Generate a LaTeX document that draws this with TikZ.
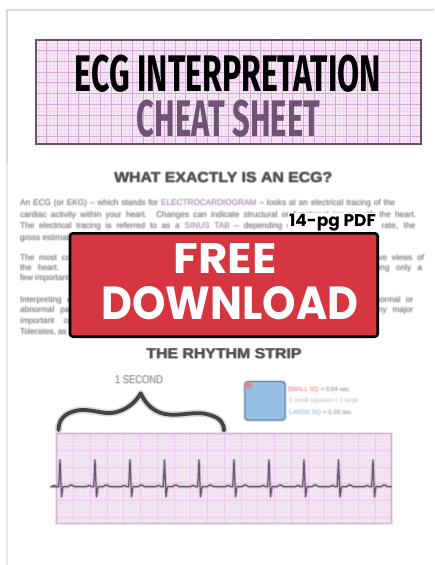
\documentclass[tikz,border=0pt]{standalone}
\usepackage{fontspec}
\usepackage{graphicx}
\setmainfont{Liberation Sans}
\newfontfamily\headfont{Fira Sans}
\newfontfamily\popfont{Poppins}
\usetikzlibrary{calc}

\definecolor{titlepink}{HTML}{F6E8F6}
\definecolor{titlegridmaj}{HTML}{D9A8DB}
\definecolor{titlegridmin}{HTML}{EFD9EF}
\definecolor{titleborder}{HTML}{6E4F70}
\definecolor{cheatpurple}{HTML}{6E5472}
\definecolor{bannerred}{HTML}{D5363F}
\definecolor{bodygray}{HTML}{6E6E6E}
\definecolor{headgray}{HTML}{303030}
\definecolor{hilite}{HTML}{A47CB2}
\definecolor{strippink}{HTML}{F1DEF0}
\definecolor{stripgrid}{HTML}{E9CFE9}
\definecolor{stripedge}{HTML}{D6B4D6}
\definecolor{tracecol}{HTML}{5B4860}
\definecolor{bracecol}{HTML}{444444}
\definecolor{legendblue}{HTML}{98C0E4}
\definecolor{legendedge}{HTML}{6F8DB6}
\definecolor{legendred}{HTML}{EE7C86}
\definecolor{legendtxtblue}{HTML}{86BCEB}
\definecolor{pageedge}{HTML}{DADADA}

\tikzset{
  pagerule/.style={draw=pageedge, line width=1.5pt},
  titlebox/.style={draw=titleborder, line width=1.3pt, fill=titlepink},
  fuzz/.style={inner sep=0pt, opacity=0.28},
  bodyline/.style={fuzz, anchor=west, text=bodygray, font=\fontsize{8.2}{9}\selectfont},
  headline/.style={fuzz, opacity=0.32, text=headgray},
  legendtxt/.style={fuzz, anchor=west, text=gray!85, font=\fontsize{6.2}{7}\selectfont},
  banner/.style={draw=black, line width=2.6pt, fill=bannerred, rounded corners=3pt},
  bannertext/.style={text=white, inner sep=0pt},
  brace/.style={draw=bracecol, line width=3.8pt, line cap=round, line join=round},
  bracehalo/.style={draw=bracecol, line width=7pt, opacity=0.2, line cap=round, line join=round},
  trace/.style={draw=tracecol, line width=1.2pt, opacity=0.85, line join=round},
  tracehalo/.style={draw=tracecol, line width=3.2pt, opacity=0.22, line join=round},
}

% soft print: the same text stamped a few times with tiny offsets
\newcommand\hazytext[3]{%
  \foreach \hx/\hy in {-0.9/0,0.9/0,0/-0.9,0/0.9,0/0}{%
    \node[#2] at ($#1+(\hx,\hy)$) {#3};}}

\begin{document}
\begin{tikzpicture}[x=1pt,y=-1pt]
\useasboundingbox (0,0) rectangle (434,565);
\fill[white] (0,0) rectangle (434,565);

% sheet edges
\draw[pagerule] (7,565) -- (7,10) -- (434,10);
\draw[draw=pageedge!60, line width=1.2pt] (7,163) -- (7,565);

% ---------- title panel on ECG paper ----------
\draw[titlebox] (36,40) rectangle (421,144);
\begin{scope}
  \clip (36,40) rectangle (421,144);
  \draw[titlegridmin, line width=0.35pt, shift={(36,40)}] (0,0) grid[step=3.567pt] (390,110);
  \draw[titlegridmaj, line width=0.7pt, shift={(36,40)}] (0,0) grid[step=10.7pt] (390,110);
\end{scope}
\draw[draw=titleborder, line width=1.3pt] (36,40) rectangle (421,144);
\node[inner sep=0pt, text=black] (title1) at (228,73.5)
  {\resizebox{306pt}{36.5pt}{\headfont\bfseries ECG INTERPRETATION}};
\node[inner sep=0pt, text=cheatpurple] (title2) at (228.5,118.3)
  {\resizebox{183pt}{36.5pt}{\headfont\bfseries CHEAT SHEET}};

% ---------- first section ----------
\hazytext{(223.3,177.5)}{headline}{\resizebox{218pt}{10pt}{\bfseries WHAT EXACTLY IS AN ECG?}}

\hazytext{(20,203.3)}{bodyline}{\makebox[375pt][s]{An ECG (or EKG) -- which stands for {\color{hilite}ELECTROCARDIOGRAM} -- looks at an electrical tracing of the}}
\hazytext{(20,215)}{bodyline}{\makebox[396pt][s]{cardiac activity within your heart. Changes can indicate structural or functional issues with the heart.}}
\hazytext{(20,226.7)}{bodyline}{\makebox[395pt][s]{The electrical tracing is referred to as a {\color{hilite}SINUS TAB} -- depending on the rhythm and the rate, the}}
\hazytext{(20,238.3)}{bodyline}{gross estimate of the heart rate.}

\hazytext{(20,258.3)}{bodyline}{\makebox[404pt][s]{The most common ECG uses 12 leads placed on the chest and the limbs to record twelve views of}}
\hazytext{(20,268.3)}{bodyline}{\makebox[402pt][s]{the heart. For quick monitoring at the bedside a rhythm strip is often used, showing only a}}
\hazytext{(20,278.3)}{bodyline}{few important leads.}

\hazytext{(20,300)}{bodyline}{\makebox[393pt][s]{Interpreting an ECG takes practice, but a systematic approach makes it easier to spot normal or}}
\hazytext{(20,310)}{bodyline}{\makebox[393pt][s]{abnormal patterns. Look at rate, rhythm, axis, intervals and waves before drawing any major}}
\hazytext{(20,321.7)}{bodyline}{\makebox[357pt][s]{important conclusions about the heart, and compare with earlier tracings when}}
\hazytext{(20,331.7)}{bodyline}{Tolerates, as available.}

% ---------- download banner ----------
\node[fill=white, inner sep=1pt, anchor=base east, text=black] (pages) at (377,226)
  {\popfont\bfseries\fontsize{17}{17}\selectfont 14-pg PDF};
\draw[banner] (70,233.3) rectangle (377.7,336.7);
\node[bannertext] (free) at (225,258.3)
  {\resizebox{103pt}{30pt}{\popfont\bfseries FREE}};
\node[bannertext] (download) at (230,303.3)
  {\resizebox{257pt}{33pt}{\popfont\bfseries DOWNLOAD}};

% ---------- rhythm strip section ----------
\hazytext{(224,354)}{headline}{\resizebox{155pt}{10pt}{\bfseries THE RHYTHM STRIP}}
\hazytext{(139,380)}{fuzz, text=gray}{\resizebox{48pt}{8pt}{1 SECOND}}

% brace spanning one second
\coordinate (b1) at (58.5,430);
\coordinate (b2) at (140.7,393.3);
\coordinate (b3) at (224,430.5);
\foreach \st in {bracehalo,brace}{
  \draw[\st] (b1) .. controls (58.5,421) and (63,414) .. (75,411)
    .. controls (90,407) and (103,416) .. (117,412)
    .. controls (130,408) and (137,400) .. (b2)
    .. controls (144,400) and (150,411) .. (165,414)
    .. controls (180,417) and (196,410) .. (210,415)
    .. controls (220,418) and (224,423) .. (b3);
}

% legend: one large square
\draw[draw=legendedge, line width=4pt, opacity=0.25, rounded corners=3pt] (245,381.7) rectangle (285,420);
\draw[draw=legendedge, line width=1.4pt, fill=legendblue, rounded corners=3pt] (245,381.7) rectangle (285,420);
\fill[legendred, opacity=0.8] (248.3,385) circle (4);
\hazytext{(287.5,390)}{legendtxt}{{\color{legendred}SMALL SQ}\hspace{2pt}= 0.04 sec}
\hazytext{(289,400.5)}{legendtxt, text=gray!45}{5 small squares = 1 large}
\hazytext{(289,412.7)}{legendtxt}{{\color{legendtxtblue}LARGE SQ}\hspace{2pt}= 0.20 sec}

% strip paper
\fill[strippink] (56.7,433.3) rectangle (391.7,523.3);
\begin{scope}
  \clip (56.7,433.3) rectangle (391.7,523.3);
  \draw[stripgrid!50, line width=0.3pt, shift={(56.7,433.3)}] (0,0) grid[step=3.35pt] (340,95);
  \draw[stripgrid, line width=0.5pt, shift={(56.7,433.3)}] (0,0) grid[step=16.75pt] (340,95);
\end{scope}
\draw[stripedge, line width=3pt, opacity=0.35] (56.7,433.3) rectangle (391.7,523.3);
\draw[stripedge, line width=1pt] (56.7,433.3) rectangle (391.7,523.3);

% rhythm trace, ten regular beats
\coordinate (t0) at (56.7,486.7);
\coordinate (t1) at (391.7,486.7);
\foreach \st in {tracehalo,trace}{
  \draw[\st] (t0)
    \foreach \bx in {60,95,130,164.5,199,234,269,304,338.5,373}{
      -- (\bx-9,486.7) -- (\bx-6,485.5) -- (\bx-3,486.7)
      -- (\bx-1.3,486.7) -- (\bx,460) -- (\bx+1.5,496.7) -- (\bx+3,486.7)
      -- (\bx+8,486.7) -- (\bx+11,484.8) -- (\bx+15,486.7)
    } -- (t1);
}
\end{tikzpicture}
\end{document}
